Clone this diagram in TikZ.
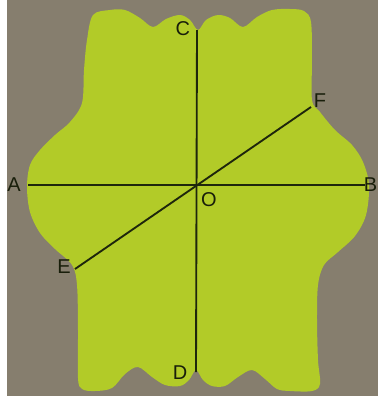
\documentclass[tikz,border=0pt]{standalone}
\usepackage{fontspec}
\setmainfont{Liberation Sans}
\usepackage{xcolor}
\usepackage{tikz}
\usetikzlibrary{positioning}
\definecolor{cardlime}{RGB}{178,203,40}
\definecolor{boardgray}{RGB}{134,126,110}
\definecolor{inkline}{RGB}{30,38,12}

\begin{document}
\begin{tikzpicture}[
    x=0.75pt, y=-0.75pt,
    seg/.style={line width=1.4pt, inkline},
    lbl/.style={text=inkline!80!black, font=\fontsize{15}{15}\selectfont, inner sep=0pt}
]
\useasboundingbox (0,0) rectangle (378,401);

% Background
\fill[boardgray] (0,0) rectangle (378,401);
\fill[white] (0,0) rectangle (7,401);
\fill[white] (0,396) rectangle (378,401);

% Card
\fill[cardlime] plot[smooth cycle, tension=0.55] coordinates {
    (87,40) (93,15) (110,10) (125,10) (140,18) (153,27) (166,19) (180,15)
    (190,20) (198,30) (206,20) (218,15) (230,18) (243,27) (257,17) (272,10)
    (290,9) (304,11) (311,22) (312,60) (312,100) (320,112) (335,130)
    (352,145) (363,162) (369,185) (366,215) (355,236) (338,252) (324,265)
    (318,285) (317,320) (318,360) (320,384) (312,391) (290,391) (277,389)
    (265,379) (252,370) (238,377) (225,386) (212,386) (203,380) (196,370)
    (189,380) (180,386) (165,385) (152,377) (138,367) (125,374) (112,388)
    (95,391) (82,389) (78,378) (78,330) (77,285) (72,265) (55,249)
    (40,233) (30,212) (27,187) (30,165) (40,150) (55,135) (70,122)
    (82,103) (84,70)};

% Points
\coordinate (O) at (197,185);
\coordinate (A) at (28,185);
\coordinate (B) at (365,185);
\coordinate (C) at (197,30);
\coordinate (D) at (196,372);
\coordinate (E) at (75,269);
\coordinate (F) at (311,107);

% Lines
\draw[seg] (A) -- (B);
\draw[seg] (C) -- (D);
\draw[seg] (E) -- (F);

% Labels
\node[lbl] (lblA) at (14,185) {A};
\node[lbl, anchor=east] (lblB) at (377.5,185) {B};
\node[lbl, left=5pt of C, yshift=1pt] (lblC) {C};
\node[lbl] (lblD) at (180,373) {D};
\node[lbl, left=3pt of E, yshift=2pt] (lblE) {E};
\node[lbl, right=2pt of F, yshift=5pt] (lblF) {F};
\node[lbl] (lblO) at (209,200) {O};

\end{tikzpicture}
\end{document}
